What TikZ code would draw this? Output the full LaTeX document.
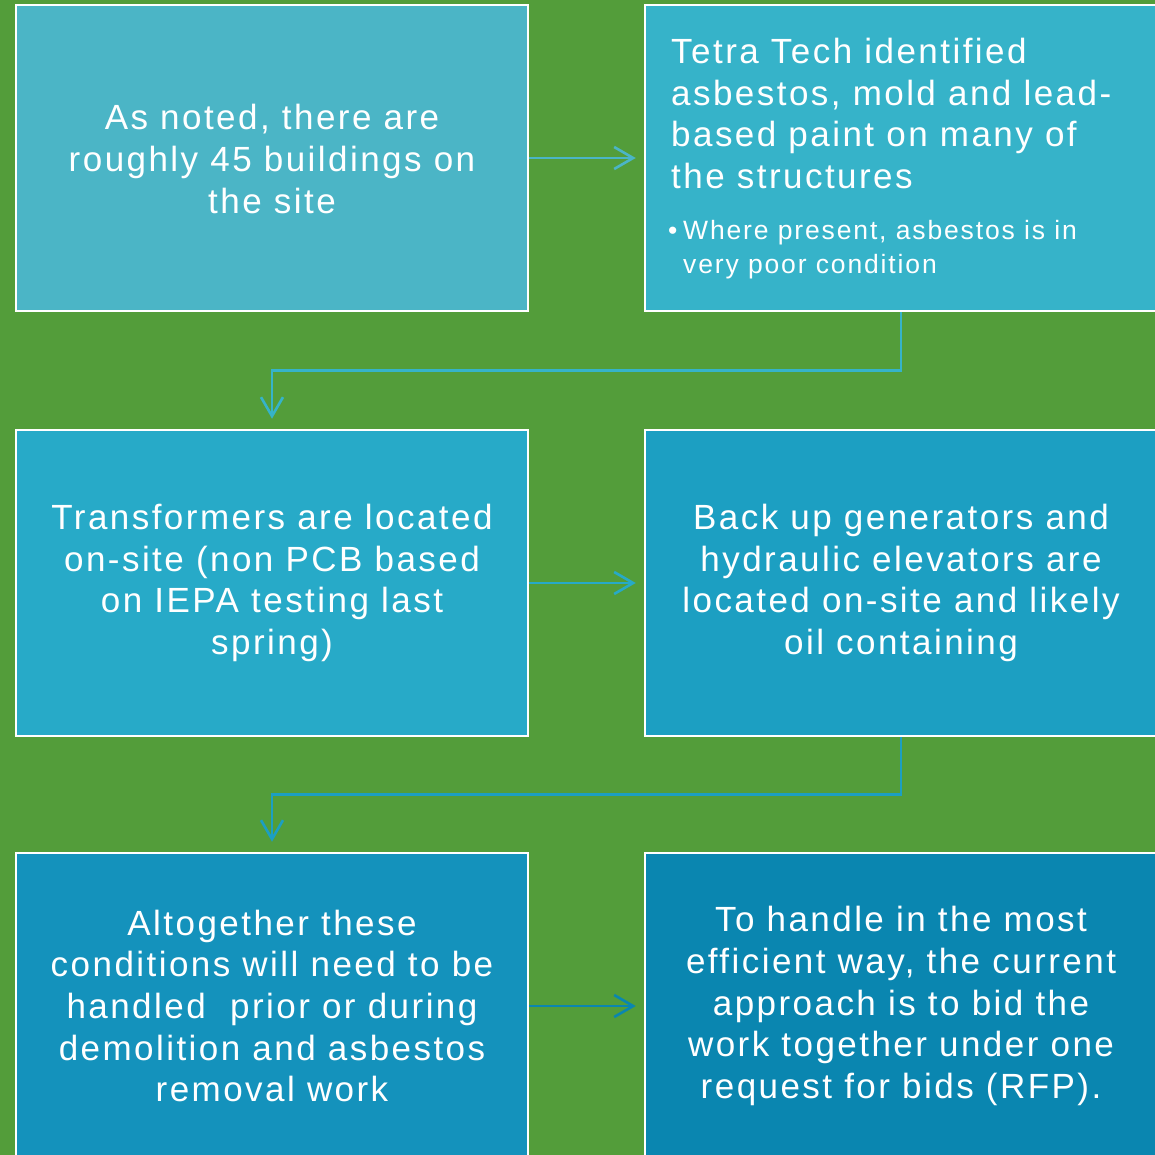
\documentclass[tikz,border=0pt]{standalone}
\usepackage{fontspec}
\setmainfont{Liberation Sans}[LetterSpace=7]
\usetikzlibrary{arrows.meta,calc}
\definecolor{bggreen}{HTML}{539D3A}
\definecolor{cA}{HTML}{4BB5C6}
\definecolor{cB}{HTML}{36B3C9}
\definecolor{cC}{HTML}{27AAC8}
\definecolor{cD}{HTML}{1C9FC2}
\definecolor{cE}{HTML}{1492BC}
\definecolor{cF}{HTML}{0A86B0}
\tikzset{
  box/.style={draw=white, line width=2.5pt, minimum width=512pt, minimum height=306pt, inner sep=0pt},
  txt/.style={text=white, align=center, inner sep=0pt, font=\fontsize{35}{41.7}\selectfont},
  link/.style={line width=2.6pt, -{Straight Barb[length=19pt,width=22pt,line width=2.6pt]}}
}
\begin{document}
\begin{tikzpicture}[x=1pt,y=-1pt]
\useasboundingbox (0,0) rectangle (1155,1155);
\fill[bggreen] (0,0) rectangle (1155,1155);
\begin{scope}
\clip (0,0) rectangle (1155,1155);
\node[box, fill=cA] (b1) at (272,158) {};
\node[box, fill=cB] (b2) at (901,158) {};
\node[box, fill=cC] (b3) at (272,583) {};
\node[box, fill=cD] (b4) at (901,583) {};
\node[box, fill=cE] (b5) at (272,1006) {};
\node[box, fill=cF] (b6) at (901,1006) {};
\end{scope}
\node[txt] (t1) at (272,159) {As noted, there are\\roughly 45 buildings on\\the site};
\node[txt, align=left, anchor=north west] (t2) at (671,38) {Tetra Tech identified\\asbestos, mold and lead-\\based paint on many of\\the structures};
\node[text=white, align=left, anchor=north west, inner sep=0pt, font=\fontsize{26.5}{34}\selectfont] (t2b) at (668,220) {\makebox[15pt][l]{•}Where present, asbestos is in\\\hspace*{15pt}very poor condition};
\node[txt] (t3) at (272,583) {Transformers are located\\on-site (non PCB based\\on IEPA testing last\\spring)};
\node[txt] (t4) at (901,583) {Back up generators and\\hydraulic elevators are\\located on-site and likely\\oil containing};
\node[txt] (t5) at (272,1006) {Altogether these\\conditions will need to be\\handled\ \ prior or during\\demolition and asbestos\\removal work};
\node[txt] (t6) at (901,1006) {To handle in the most\\efficient way, the current\\approach is to bid the\\work together under one\\request for bids (RFP).};
\draw[link, cA, shorten >=8pt] (b1.east) -- (b2.west);
\draw[link, cB, shorten >=10pt] (b2.south) |- ($(b2.south)!0.5!(b3.north)$) -| (b3.north);
\draw[link, cC, shorten >=8pt] (b3.east) -- (b4.west);
\draw[link, cD, shorten >=10pt] (b4.south) |- ($(b4.south)!0.5!(b5.north)$) -| (b5.north);
\draw[link, cF, shorten >=8pt] (b5.east) -- (b6.west);
\end{tikzpicture}
\end{document}
